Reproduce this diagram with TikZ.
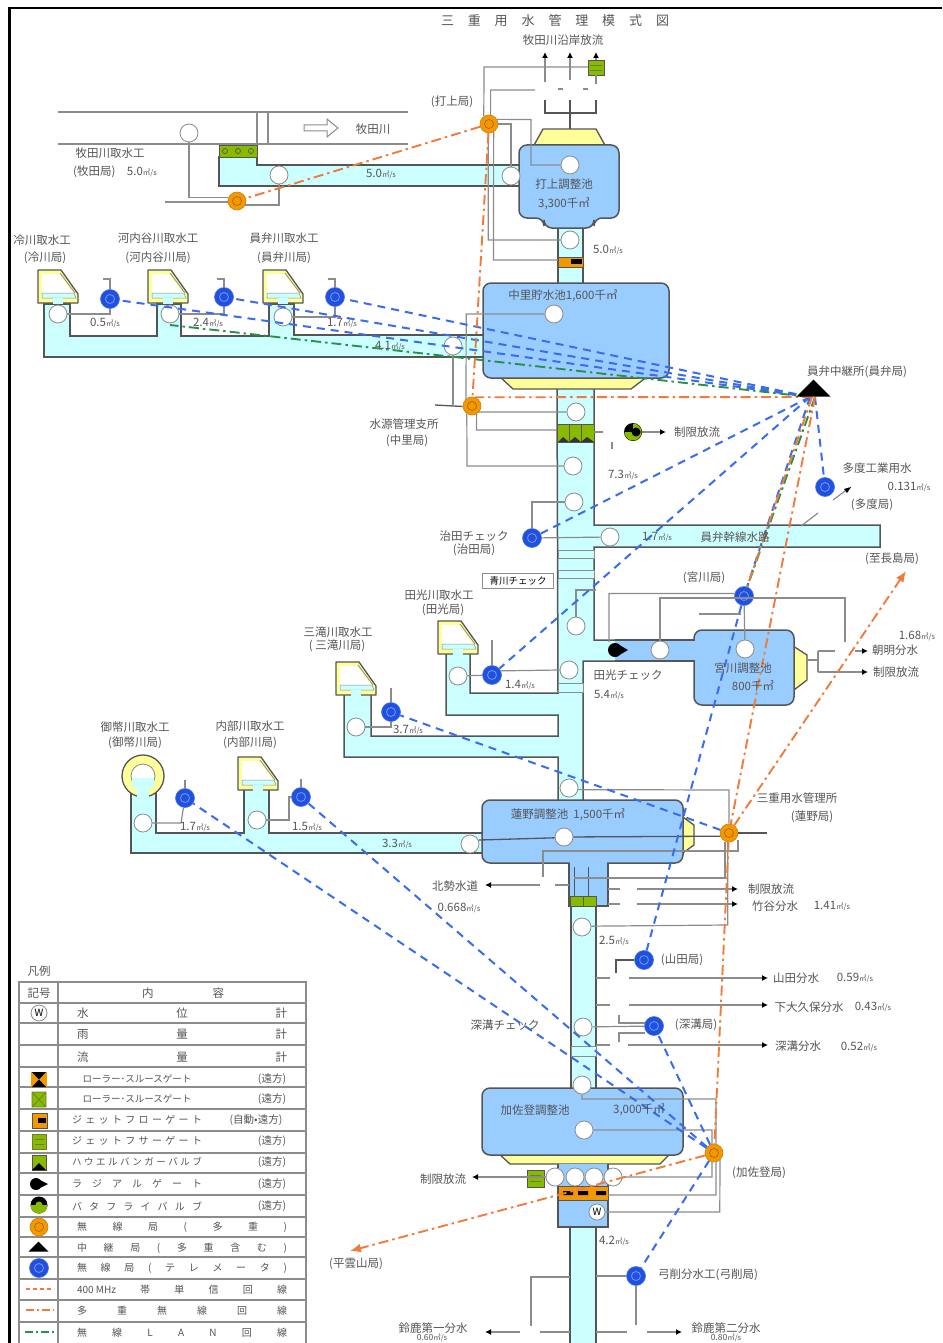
\documentclass[tikz,border=0pt]{standalone}
\usepackage{fontspec}
\setmainfont{Noto Sans CJK JP}
\usetikzlibrary{arrows.meta,shapes.geometric}
\definecolor{cy}{HTML}{CCFFFF}
\definecolor{bl}{HTML}{99CCFF}
\definecolor{ye}{HTML}{FFFF99}
\definecolor{gg}{HTML}{88BB00}
\definecolor{og}{HTML}{F39800}
\definecolor{bs}{HTML}{2050E0}
\definecolor{dk}{HTML}{555555}
\definecolor{lg}{HTML}{8C8C8C}
\definecolor{tc}{HTML}{555555}
\definecolor{wb}{HTML}{3A6CF0}
\definecolor{wo}{HTML}{F27A3A}
\definecolor{wg}{HTML}{2A9048}
\tikzset{
 txt/.style={font=\fontsize{11.5}{13}\selectfont,text=tc,inner sep=0pt},
 gauge/.style={circle,fill=white,draw=lg,line width=.8pt,minimum size=18pt,inner sep=0pt},
 bluest/.style={circle,fill=bs,draw=bs!80!white,line width=.6pt,minimum size=19pt,inner sep=0pt,
   path picture={\draw[wb!70!white,line width=.8pt] (path picture bounding box.center) circle (4.5pt);}},
 orgst/.style={circle,fill=og,draw=og!85!black,line width=.6pt,minimum size=18pt,inner sep=0pt,
   path picture={\draw[og!70!black,line width=.7pt] (path picture bounding box.center) circle (4.5pt);}},
 ln/.style={draw=lg,line width=1.2pt},
 lnd/.style={draw=dk,line width=1.3pt},
 arw/.style={draw=lg,line width=1.2pt,-{Latex[length=6pt,width=6pt,black]}},
 body/.style={fill=bl,draw=dk,line width=1.5pt,rounded corners=8pt},
 yel/.style={fill=ye,draw=dk,line width=1.3pt,line join=round},
 can/.style={fill=cy,draw=dk,line width=1.5pt,line join=miter},
 wblue/.style={draw=wb,line width=2pt,dash pattern=on 8pt off 6pt},
 woran/.style={draw=wo,line width=1.9pt,dash pattern=on 10pt off 4pt on 2.5pt off 4pt},
 wlan/.style={draw=wg,line width=1.9pt,dash pattern=on 10pt off 4pt on 2.5pt off 4pt},
 tb/.style={draw=lg,line width=1.1pt}
}
\newcounter{tn}
\newcommand\lb[4][]{\stepcounter{tn}\node[txt,#1] (t\arabic{tn}) at (#2,#3) {#4};}
\newcommand\Un{{\fontsize{7.5}{8}\selectfont ㎥/s}}
\newcommand\spr[2]{\makebox[#1pt][s]{#2}}
\newcommand\intake[2]{\begin{scope}[shift={(#1,#2)}]
 \path[yel] (0,0)--(23,0)--(40,24)--(40,33)--(0,33)--cycle;
 \path[fill=white] (4,4)--(21,4)--(35,23)--(4,23)--cycle;
 \draw[draw=lg,line width=.8pt] (22,3)--(37,23);
 \path[fill=cy,draw=lg,line width=.5pt] (4,23)--(36,23)--(38,28)--(4,28)--cycle;
 \path[fill=cy] (15,28) rectangle (25,33.5);
\end{scope}}
\newcommand\chk[4]{\path[fill=cy,draw=lg,line width=1pt] (#1,#3) rectangle (#2,#4);}
\begin{document}
\begin{tikzpicture}[x=1pt,y=-1pt,line cap=butt]
\useasboundingbox (0,0) rectangle (942,1343);
\clip (0,0) rectangle (942,1343);
\fill[white] (0,0) rectangle (942,1343);
\draw[black,line width=2.6pt] (9.5,1343)--(9.5,8)--(942,8);
% river
\draw[ln] (58,112)--(408,112) (58,144)--(408,144) (257,112)--(257,165) (268,112)--(268,144);
\draw[draw=lg,fill=white,line width=1pt] (304,125)--(327,125)--(327,119)--(338,128)--(327,137)--(327,131)--(304,131)--cycle;
% canals
\path[can] (219,157)--(219,186)--(524,186)--(524,165)--(257,165)--(257,157)--cycle;
\path[can] (44,304)--(44,357)--(485,357)--(485,335)--(294,335)--(294,304)--(269,304)--(269,336)--(181,336)--(181,304)--(157,304)--(157,336)--(70,336)--(70,304)--cycle;
\path[can] (558,226) rectangle (583,285);
\path[can] (557,385)--(594,385)--(594,525)--(880,525)--(880,547)--(594,547)--(594,640)--(620,640)--(620,661)--(583,661)--(583,802)--(558,802)--(558,757)--(344,757)--(344,690)--(371,690)--(371,736)--(558,736)--(558,715)--(446,715)--(446,648)--(470,648)--(470,693)--(558,693)--cycle;
\path[can] (131,788)--(131,853)--(484,853)--(484,833)--(269,833)--(269,788)--(244,788)--(244,833)--(156,833)--(156,788)--cycle;
\path[can] (571,905) rectangle (596,1090);
\path[can] (570,1225) rectangle (596,1350);
\path[fill=bl,draw=dk,line width=1.3pt] (615,640)--(700,640)--(700,661)--(615,661);
% check bars
\chk{558}{594}{550}{558}
\chk{558}{594}{570}{578}
\chk{558}{583}{683}{692}
\chk{571}{596}{1046}{1056}
% T below Hasuno
\path[fill=bl,draw=dk,line width=1.3pt] (569,858)--(569,906)--(608,906)--(608,858);
% reservoirs
\path[yel] (533,147)--(543,129)--(596,129)--(606,147)--cycle;
\path[body] (519,145)--(619,145)--(619,218)--(594,218)--(594,228)--(544,228)--(544,218)--(519,218)--cycle;
\path[yel] (499,376)--(513,389)--(631,389)--(648,376)--cycle;
\path[body] (483,283)--(669,283)--(669,378)--(483,378)--cycle;
\path[yel] (790,644)--(807,655)--(807,680)--(790,693)--cycle;
\path[body] (694,630)--(794,630)--(794,705)--(694,705)--cycle;
\fill[bl] (690,641) rectangle (698,660);
\path[yel] (680,815)--(694,825)--(694,845)--(680,855)--cycle;
\path[body] (482,800)--(683,800)--(683,863)--(482,863)--cycle;
\fill[bl] (570,858) rectangle (607,868);
\path[yel] (497,1152)--(510,1164)--(660,1164)--(672,1152)--cycle;
\path[body] (482,1088)--(683,1088)--(683,1155)--(482,1155)--cycle;
\path[fill=bl,draw=dk,line width=1.3pt] (558,1164)--(558,1227)--(608,1227)--(608,1164);
\draw[dk,line width=1.3pt] (558,1227)--(608,1227);
% intakes
\intake{38}{270}\intake{148}{270}\intake{263}{270}
\intake{438}{621}\intake{336}{662}\intake{238}{757}
\path[fill=ye,draw=dk,line width=1.3pt] (143,776) circle (21);
\fill[cy] (138,780) rectangle (148,798);
\path[fill=white,draw=dk!70,line width=.8pt] (143,776) circle (12);
\fill[cy] (132,778) rectangle (154,788);
\fill[cy] (137,786) rectangle (149,798);
% gates
\draw[dk,line width=.8pt,fill=gg] (219,145) rectangle (257,157);
\draw[dk,line width=.7pt] (225,151) circle (2.5) (238,151) circle (2.5) (251,151) circle (2.5);
\draw[dk,line width=.8pt,fill=gg] (588,60) rectangle (604,75);
\draw[dk!60!gg,line width=.7pt] (590,65)--(602,65) (590,70)--(602,70);
\draw[dk,line width=.8pt,fill=og] (558,257) rectangle (583,267);
\fill[black] (571,259) rectangle (582,264);
\draw[dk,line width=.8pt,fill=gg] (557,424) rectangle (594,442);
\draw[dk,line width=.8pt] (569.3,424)--(569.3,442) (581.6,424)--(581.6,442);
\fill[black!80] (558,442)--(563,437)--(569,442)--(575,437)--(581,442)--(587,437)--(594,442)--cycle;
\draw[dk,line width=.8pt,fill=gg] (570,896) rectangle (596,906);
\draw[dk,line width=.8pt] (583,896)--(583,906) (574,867)--(574,896) (588,867)--(588,896);
\draw[dk,line width=.8pt,fill=gg] (527,1170) rectangle (544,1187);
\draw[dk!60!gg,line width=.7pt] (530,1175)--(541,1175) (530,1181)--(541,1181);
\draw[dk,line width=.8pt,fill=og] (558,1186) rectangle (608,1200);
\fill[black] (563,1191) rectangle (573,1195) (578,1191) rectangle (588,1195) (596,1191) rectangle (606,1195);
\fill[black] (615,650) circle (7) (616,643)--(628,650)--(616,657)--cycle;
\node[circle,fill=black,minimum size=18pt,inner sep=0pt] (bv) at (633,432) {};
\fill[gg] (624.5,432) arc (180:-90:8.5)--(633,432)--cycle;
\fill[black] (636,432) circle (4.5);
% free ends
\coordinate (gtMk) at (588,67);
\coordinate (gtU) at (558,260);
\coordinate (gtN) at (557,430);
\coordinate (gtK) at (527,1177);
\coordinate (bkT) at (608,1195);
\coordinate (arT1) at (545,52); \coordinate (arT2) at (570,52); \coordinate (arT3) at (596,52);
% gauges
\node[gauge] (gA) at (189,133) {};
\node[gauge] (gB) at (279,175) {};
\node[gauge] (gC) at (511,176) {};
\node[gauge] (gD) at (570,165) {};
\node[gauge] (gE) at (570,240) {};
\node[gauge] (gF) at (554,314) {};
\node[gauge] (gG) at (58,314) {};
\node[gauge] (gH) at (170,314) {};
\node[gauge] (gI) at (283,317) {};
\node[gauge] (gJ) at (453,346) {};
\node[gauge] (gK) at (576,412) {};
\node[gauge] (gL) at (573,466) {};
\node[gauge] (gM) at (574,502) {};
\node[gauge] (gN) at (610,537) {};
\node[gauge] (gO) at (576,626) {};
\node[gauge] (gP) at (569,670) {};
\node[gauge] (gQ) at (660,650) {};
\node[gauge] (gR) at (745,649) {};
\node[gauge] (gS) at (458,676) {};
\node[gauge] (gT) at (356,727) {};
\node[gauge] (gU) at (569,788) {};
\node[gauge] (gV) at (564,837) {};
\node[gauge] (gW) at (470,844) {};
\node[gauge] (gX) at (143,823) {};
\node[gauge] (gY) at (257,820) {};
\node[gauge] (gZ) at (582,927) {};
\node[gauge] (ha) at (583,1027) {};
\node[gauge] (hb) at (582,1085) {};
\node[gauge] (hc) at (584,1130) {};
\node[gauge] (hd) at (555,1177) {};
\node[gauge] (he) at (575,1177) {};
\node[gauge] (hf) at (594,1177) {};
\node[gauge] (hg) at (613,1177) {};
\node[gauge,minimum size=16pt,font=\fontsize{10}{10}\selectfont] (hw) at (597,1212) {W};
% stations
\node[orgst] (oMk) at (237,201) {};
\node[orgst] (oUc) at (489,124) {};
\node[orgst] (oNk) at (472,406) {};
\node[orgst] (oHs) at (729,833) {};
\node[orgst] (oKs) at (714,1153) {};
\node[bluest] (b1) at (110,299) {};
\node[bluest] (b2) at (224,297) {};
\node[bluest] (b3) at (335,297) {};
\node[bluest] (bHa) at (532,538) {};
\node[bluest] (bMi) at (744,596) {};
\node[bluest] (bTd) at (825,487) {};
\node[bluest] (bTa) at (492,675) {};
\node[bluest] (bMt) at (391,712) {};
\node[bluest] (bOn) at (185,798) {};
\node[bluest] (bUt) at (301,797) {};
\node[bluest] (bYm) at (644,960) {};
\node[bluest] (bFk) at (654,1026) {};
\node[bluest] (bYg) at (636,1276) {};
% signal lines, top
\draw[ln] (gA) |- (oMk.160);
\draw[lnd] (165,202)--(oMk.186);
\draw[ln] (gB) |- (oMk.-25);
\draw[ln] (oUc) -| (gC);
\draw[ln] (oUc.30)--(531,119.5)--(531,165)--(gD);
\draw[ln] (oUc.265)--(488.2,240)--(gE);
\draw[ln] (oUc.300)--(493.5,260)--(gtU);
\draw[ln] (oUc.80)--(490.6,90)--(535,90);
\draw[ln] (oUc.124)--(484,67)--(gtMk);
\draw[ln] (558,89)--(563,89) (583,89)--(588,89);
\draw[lnd] (545,100)--(545,113)--(596,113)--(596,100) (570,100)--(570,129);
\draw[arw] (545,82)--(arT1);
\draw[arw] (570,80)--(arT2);
\draw[arw] (596,60)--(arT3);
\draw[ln] (596,75)--(596,84);
% Nakazato
\draw[ln] (gF)--(466.2,314)--(oNk.130);
\draw[lnd] (435,405)--(oNk.183);
\draw[ln] (gJ)--(453,405);
\draw[ln] (oNk.315)--(478.4,412)--(gK);
\draw[ln] (oNk.300)--(476.5,430)--(gtN);
\draw[ln] (oNk.236)--(467,466)--(gL);
\draw[ln] (594,432)--(603,432);
\draw[ln] (612,442)--(612,449);
\draw[arw] (bv)--(666,432);
% river intakes
\draw[ln] (103,279)--(110,279)--(b1);
\draw[ln] (217,279)--(224,279)--(b2);
\draw[ln] (328,279)--(335,279)--(b3);
\draw[ln] (gG) -| (b1);
\draw[ln] (gH) -| (b2);
\draw[ln] (gI) -| (b3);
% mid trunk
\draw[ln] (bHa)--(532,502)--(gM);
\draw[ln] (bHa)--(gN);
\draw[ln] (gO)--(576,590)--(596,590);
\draw[ln] (bMi.165)--(609,593.5)--(609,642);
\draw[ln] (gQ)--(660,598)--(845,598)--(845,642);
\draw[ln] (bMi)--(gR);
\draw[ln] (699,614)--(741,614);
\draw[ln] (807,660)--(818,660);
\draw[ln] (818,651)--(835,651) (818,651)--(818,672);
\draw[arw] (855,651)--(868,651);
\draw[arw] (818,672)--(868,672);
\draw[ln] (492,640)--(bTa);
\draw[ln] (gS)--(bTa);
\draw[ln] (bTa.25)--(gP.west);
\draw[ln] (gT)--(391,727)--(bMt);
\draw[ln] (391,688)--(bMt);
\draw[ln] (gX)--(181,823)--(bOn);
\draw[ln] (185,780)--(bOn);
\draw[ln] (gY)--(289,820)--(289,797)--(bUt);
\draw[ln] (301,779)--(bUt);
\draw[ln] (833,500)--(849,488);
\fill[black] (851,487)--(844,489)--(847,493)--cycle;
\draw[ln] (801,526)--(818,513);
% Hasuno
\draw[lnd] (gV)--(oHs.200);
\draw[lnd] (gW.25)--(gV.185);
\draw[ln] (gU.-10)--(729,790)--(oHs);
\draw[lnd] (oHs)--(767,833);
\draw[ln] (543,877)--(543,851)--(738,851)--(738,840);
\draw[ln] (574,878)--(725,878)--(725,842);
\draw[ln] (oHs.262)--(727.7,925)--(gZ.5);
\draw[ln] (608,889)--(620,889) (608,904)--(620,904);
\draw[arw] (637,889)--(738,889);
\draw[arw] (637,904)--(738,904);
\draw[ln] (555,885)--(569,885);
\draw[arw] (540,885)--(485,885);
% lower trunk
\draw[lnd] (bYm)--(616,960)--(616,973);
\draw[ln] (596,978)--(610,978) (596,1005)--(610,1005) (596,1045)--(610,1045);
\draw[arw] (629,978)--(768,978);
\draw[lnd,arw] (629,1005)--(768,1005);
\draw[lnd,arw] (628,1045)--(768,1045);
\draw[ln] (ha)--(bFk);
\draw[ln] (619,1015)--(619,1023)--(645,1023) (619,1042)--(619,1033)--(645,1033);
\draw[ln] (hb)--(582,1099)--(716,1099)--(oKs.77);
\draw[ln] (hc)--(712,1130)--(oKs.103);
\draw[ln] (oKs.257)--(712,1177)--(hg);
\draw[ln] (oKs.283)--(716,1195)--(bkT);
\draw[ln] (oKs.310)--(719.8,1212)--(hw);
\draw[ln] (hd)--(gtK);
\draw[arw] (527,1177)--(472,1177);
\draw[ln] (bYg)--(596,1276);
\draw[ln] (570,1277)--(531,1277)--(531,1326);
\draw[ln] (bYg)--(636,1325);
\draw[ln] (570,1332)--(540,1332);
\draw[arw] (520,1332)--(485,1332);
\draw[ln] (596,1332)--(627,1332);
\draw[arw] (647,1332)--(682,1332);
% wireless
\coordinate (rb) at (810,397);
\coordinate (ro) at (812,397);
\coordinate (rg) at (815,397);
\coordinate (gEnd) at (170,325);
\coordinate (arN) at (906,571);
\coordinate (arS) at (350,1251);
\draw[wblue] (rb)--(b3);
\draw[wblue] (rb)--(b2);
\draw[wblue] (rb)--(b1);
\draw[wblue] (rb)--(bHa);
\draw[wblue] (rb)--(bTa);
\draw[wblue] (rb)--(bMi);
\draw[wblue] (rg)--(bTd);
\draw[wblue] (bMi)--(bYm);
\draw[wblue] (oHs)--(bMt);
\draw[wblue] (oKs)--(bOn);
\draw[wblue] (oKs)--(bUt);
\draw[wblue] (oKs)--(bFk);
\draw[wblue] (oKs)--(bYg);
\draw[wlan] (rb)--(gEnd);
\draw[wlan] (rg)--(bMi);
\draw[woran] (ro)--(bMi);
\draw[woran] (rg)--(oHs);
\draw[woran] (ro)--(oNk.70);
\draw[woran,-{Latex[length=11pt,width=9pt]}] (oHs)--(arN);
\draw[woran,-{Latex[length=11pt,width=9pt]}] (oKs)--(arS);
\draw[woran] (oUc)--(oMk);
\draw[woran] (oUc)--(oNk);
\draw[woran] (oHs)--(oKs);
\node[isosceles triangle,isosceles triangle apex angle=90,shape border rotate=90,fill=black,minimum height=17pt,minimum width=28pt,inner sep=0pt] (relay) at (813.5,389.5) {};
% text
\lb[font=\fontsize{13}{14}\selectfont]{555}{21}{\spr{228}{三\hfill 重\hfill 用\hfill 水\hfill 管\hfill 理\hfill 模\hfill 式\hfill 図}}
\lb{563}{40}{牧田川沿岸放流}
\lb{452}{102}{(打上局)}
\lb{373}{129}{牧田川}
\lb{110}{153}{牧田川取水工}
\lb{115}{172}{(牧田局)\quad 5.0\Un}
\lb{381}{174}{5.0\Un}
\lb{564}{184}{打上調整池}
\lb{564}{204}{3,300千㎥}
\lb{608}{250}{5.0\Un}
\lb{42}{240}{冷川取水工}
\lb{45}{258}{(冷川局)}
\lb{158}{238}{河内谷川取水工}
\lb{158}{258}{(河内谷川局)}
\lb{284}{238}{員弁川取水工}
\lb{284}{258}{(員弁川局)}
\lb{105}{323}{0.5\Un}
\lb{208}{323}{2.4\Un}
\lb{342}{323}{1.7\Un}
\lb{390}{346}{4.1\Un}
\lb{563}{296}{中里貯水池1,600千㎥}
\lb{857}{372}{員弁中継所(員弁局)}
\lb{404}{424}{水源管理支所}
\lb{407}{441}{(中里局)}
\lb{697}{432}{制限放流}
\lb{623}{475}{7.3\Un}
\lb{877}{468}{多度工業用水}
\lb{909}{487}{0.131\Un}
\lb{872}{505}{(多度局)}
\lb{474}{536}{治田チェック}
\lb{474}{550}{(治田局)}
\lb{657}{537}{1.7\Un}
\lb{735}{537}{員弁幹線水路}
\lb{892}{559}{(至長島局)}
\lb{704}{578}{(宮川局)}
\node[txt,draw=lg,line width=1pt,minimum width=71pt,minimum height=15pt,font=\fontsize{9.5}{11}\selectfont,text=black] (aoB) at (518,581) {青川チェック};
\lb{439}{595}{田光川取水工}
\lb{443}{610}{(田光局)}
\lb{338}{632}{三滝川取水工}
\lb{337}{646}{( 三滝川局)}
\lb{917}{636}{1.68\Un}
\lb{895}{650}{朝明分水}
\lb{896}{672}{制限放流}
\lb{628}{675}{田光チェック}
\lb{609}{695}{5.4\Un}
\lb{520}{685}{1.4\Un}
\lb{743}{668}{宮川調整池}
\lb{753}{686}{800千㎥}
\lb{408}{730}{3.7\Un}
\lb{135}{727}{御幣川取水工}
\lb{135}{743}{(御幣川局)}
\lb{250}{726}{内部川取水工}
\lb{250}{743}{(内部川局)}
\lb{797}{798}{三重用水管理所}
\lb{812}{817}{(蓮野局)}
\lb{568}{815}{蓮野調整池\ \ 1,500千㎥}
\lb{195}{827}{1.7\Un}
\lb{307}{827}{1.5\Un}
\lb{397}{844}{3.3\Un}
\lb{455}{886}{北勢水道}
\lb{459}{908}{0.668\Un}
\lb{771}{889}{制限放流}
\lb{775}{906}{竹谷分水}
\lb{832}{906}{1.41\Un}
\lb{614}{941}{2.5\Un}
\lb{682}{960}{(山田局)}
\lb{796}{978}{山田分水}
\lb{855}{978}{0.59\Un}
\lb{809}{1007}{下大久保分水}
\lb{873}{1007}{0.43\Un}
\lb{505}{1025}{深溝チェック}
\lb{696}{1025}{(深溝局)}
\lb{798}{1046}{深溝分水}
\lb{859}{1047}{0.52\Un}
\lb{535}{1110}{加佐登調整池}
\lb{639}{1110}{3,000千㎥}
\lb{759}{1173}{(加佐登局)}
\lb{443}{1179}{制限放流}
\lb{614}{1241}{4.2\Un}
\lb{356}{1264}{(平雲山局)}
\lb{708}{1275}{弓削分水工(弓削局)}
\lb{433}{1328}{鈴鹿第一分水}
\lb[font=\fontsize{8.5}{9}\selectfont]{432}{1338}{0.60\Un}
\lb{726}{1328}{鈴鹿第二分水}
\lb[font=\fontsize{8.5}{9}\selectfont]{726}{1338}{0.80\Un}
% legend
\lb{39}{971}{凡例}
\draw[tb] (19,982) rectangle (306,1345);
\draw[tb] (58,982)--(58,1345);
\draw[tb] (19,1003)--(306,1003) (19,1023)--(306,1023) (19,1045)--(306,1045) (19,1067)--(306,1067) (19,1087)--(306,1087) (19,1109)--(306,1109) (19,1131)--(306,1131) (19,1153)--(306,1153) (19,1173)--(306,1173) (19,1195)--(306,1195) (19,1217)--(306,1217) (19,1237)--(306,1237) (19,1257)--(306,1257) (19,1279)--(306,1279) (19,1300)--(306,1300);
\draw[tb,line width=1.8pt] (19,1322)--(306,1322);
\lb{39}{993}{記号}
\lb{183}{993}{\spr{82}{内\hfill 容}}
\lb{182}{1013}{\spr{210}{水\hfill 位\hfill 計}}
\lb{182}{1034}{\spr{210}{雨\hfill 量\hfill 計}}
\lb{182}{1057}{\spr{210}{流\hfill 量\hfill 計}}
\newcommand\ltx[4]{\lb[font=\fontsize{9.5}{11}\selectfont]{#1}{#2}{#3}\lb[font=\fontsize{10.5}{12}\selectfont]{#4}{#2}{(遠方)}}
\ltx{137}{1079}{ローラー･スルースゲート}{272}
\ltx{137}{1099}{ローラー･スルースゲート}{272}
\lb[font=\fontsize{10}{12}\selectfont]{137}{1120}{\spr{130}{ジ\hfill ェ\hfill ッ\hfill ト\hfill フ\hfill ロ\hfill ー\hfill ゲ\hfill ー\hfill ト}}
\lb[font=\fontsize{10.5}{12}\selectfont]{256}{1120}{(自動•遠方)}
\lb[font=\fontsize{10}{12}\selectfont]{137}{1141}{\spr{130}{ジ\hfill ェ\hfill ッ\hfill ト\hfill フ\hfill サ\hfill ー\hfill ゲ\hfill ー\hfill ト}}
\lb[font=\fontsize{10.5}{12}\selectfont]{272}{1141}{(遠方)}
\lb[font=\fontsize{9.5}{11}\selectfont]{137}{1162}{\spr{130}{ハ\hfill ウ\hfill エ\hfill ル\hfill バ\hfill ン\hfill ガ\hfill ー\hfill バ\hfill ル\hfill ブ}}
\lb[font=\fontsize{10.5}{12}\selectfont]{272}{1162}{(遠方)}
\lb[font=\fontsize{10}{12}\selectfont]{137}{1184}{\spr{130}{ラ\hfill ジ\hfill ア\hfill ル\hfill ゲ\hfill ー\hfill ト}}
\lb[font=\fontsize{10.5}{12}\selectfont]{272}{1184}{(遠方)}
\lb[font=\fontsize{10}{12}\selectfont]{137}{1206}{\spr{130}{バ\hfill タ\hfill フ\hfill ラ\hfill イ\hfill バ\hfill ル\hfill ブ}}
\lb[font=\fontsize{10.5}{12}\selectfont]{272}{1206}{(遠方)}
\lb[font=\fontsize{10}{12}\selectfont]{182}{1227}{\spr{210}{無\hfill 線\hfill 局\hfill (\hfill 多\hfill 重\hfill )}}
\lb[font=\fontsize{10}{12}\selectfont]{182}{1248}{\spr{210}{中\hfill 継\hfill 局\hfill (\hfill 多\hfill 重\hfill 含\hfill む\hfill )}}
\lb[font=\fontsize{10}{12}\selectfont]{182}{1268}{\spr{210}{無\hfill 線\hfill 局\hfill (\hfill テ\hfill レ\hfill メ\hfill ー\hfill タ\hfill )}}
\lb[font=\fontsize{10}{12}\selectfont]{182}{1290}{\spr{210}{400 MHz\hfill 帯\hfill 単\hfill 信\hfill 回\hfill 線}}
\lb[font=\fontsize{10}{12}\selectfont]{182}{1311}{\spr{210}{多\hfill 重\hfill 無\hfill 線\hfill 回\hfill 線}}
\lb[font=\fontsize{10}{12}\selectfont]{182}{1333}{\spr{210}{無\hfill 線\hfill L\hfill A\hfill N\hfill 回\hfill 線}}
\node[gauge,minimum size=16pt,font=\fontsize{10}{10}\selectfont] (lW) at (39,1013) {W};
% legend symbols
\fill[og] (31,1072) rectangle (47,1087);
\fill[black] (32,1072)--(46,1072)--(39,1079.5)--(46,1087)--(32,1087)--(39,1079.5)--cycle;
\draw[dk!60!gg,fill=gg,line width=.7pt] (32,1092) rectangle (46,1107) (33,1093)--(45,1106) (45,1093)--(33,1106);
\draw[dk,fill=og,line width=.7pt] (32,1113) rectangle (47,1128);
\fill[black] (38,1118) rectangle (46,1123);
\draw[dk!60!gg,fill=gg,line width=.7pt] (32,1134) rectangle (46,1149) (35,1139)--(44,1139) (35,1144)--(44,1144);
\draw[dk,fill=gg,line width=.7pt] (32,1155) rectangle (46,1170);
\fill[black] (32,1170)--(39,1163)--(46,1170)--cycle;
\fill[black] (36,1184) circle (6) (36,1178)--(48,1184)--(36,1190)--cycle;
\node[circle,fill=black,minimum size=17pt,inner sep=0pt] (lb1) at (39,1205) {};
\fill[gg] (30.5,1205) arc (180:0:8.5)--cycle;
\fill[gg] (39,1205) circle (3.5);
\node[orgst] (lOr) at (39,1227) {};
\node[isosceles triangle,isosceles triangle apex angle=90,shape border rotate=90,fill=black,minimum height=10pt,minimum width=19pt,inner sep=0pt] (lTr) at (38.5,1247.5) {};
\node[bluest] (lBl) at (39,1268) {};
\coordinate (lA1) at (26,1289); \coordinate (lA2) at (54,1289);
\coordinate (lB1) at (26,1310); \coordinate (lB2) at (54,1310);
\coordinate (lC1) at (25,1332); \coordinate (lC2) at (54,1332);
\draw[draw=wo,line width=1.3pt,dash pattern=on 4pt off 3pt] (lA1)--(lA2);
\draw[woran,line width=1.4pt,dash pattern=on 8pt off 3pt on 2pt off 3pt] (lB1)--(lB2);
\draw[wlan,line width=1.4pt,dash pattern=on 8pt off 3pt on 2pt off 3pt] (lC1)--(lC2);
\end{tikzpicture}
\end{document}
